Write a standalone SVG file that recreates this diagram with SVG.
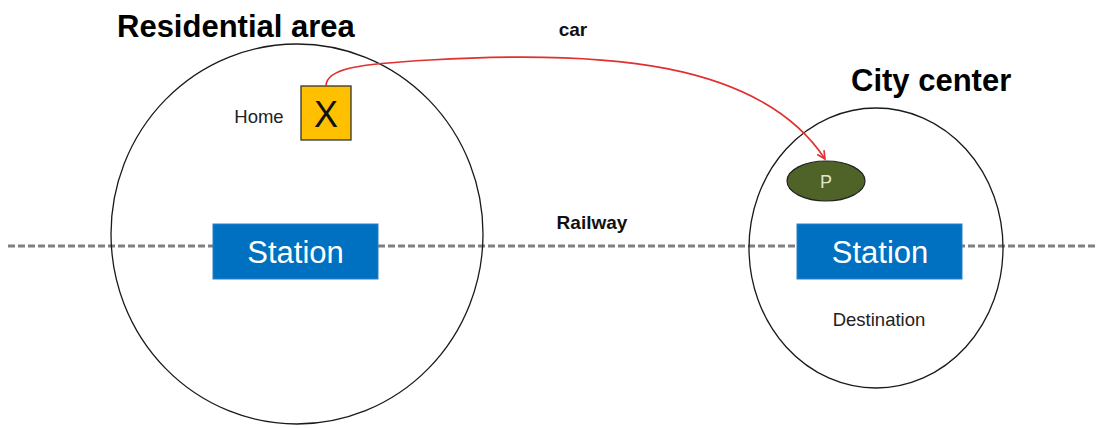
<svg xmlns="http://www.w3.org/2000/svg" width="1097" height="428" viewBox="0 0 1097 428">
  <style>
    .area { fill: none; stroke: #1a1a1a; stroke-width: 1.3; }
    .title { font-family: "Liberation Sans", Arial, sans-serif; font-weight: bold; font-size: 31px; fill: #000; }
    .label { font-family: "Liberation Sans", Arial, sans-serif; font-size: 18.5px; fill: #222; }
    .bold { font-family: "Liberation Sans", Arial, sans-serif; font-weight: bold; font-size: 19px; fill: #111; }
    .station rect { fill: #0070c0; stroke: #2a80c8; stroke-width: 1; }
    .station text { font-family: "Liberation Sans", Arial, sans-serif; font-size: 31px; fill: #fff; text-anchor: middle; }
  </style>
  <defs>
    <marker id="arrow" viewBox="0 0 10 10" refX="9" refY="5" markerWidth="10" markerHeight="10" orient="auto" markerUnits="userSpaceOnUse">
      <path d="M1,1 L9,5 L1,9" fill="none" stroke="#e03030" stroke-width="1.6"/>
    </marker>
  </defs>
  <rect width="1097" height="428" fill="#fff"/>

  <!-- railway line -->
  <g id="railway">
    <line x1="8" y1="246" x2="1097" y2="246" stroke="#808080" stroke-width="3" stroke-dasharray="7,3"/>
    <text class="bold" x="592" y="229" text-anchor="middle">Railway</text>
  </g>

  <!-- residential area -->
  <g id="residential">
    <ellipse class="area" cx="297" cy="234" rx="186" ry="190"/>
    <text class="title" x="117" y="37">Residential area</text>
  </g>

  <!-- city center -->
  <g id="city-center">
    <ellipse class="area" cx="876" cy="248" rx="127" ry="140"/>
    <text class="title" x="851" y="91">City center</text>
  </g>

  <g id="home">
    <text class="label" x="259" y="123" text-anchor="middle">Home</text>
    <rect x="301" y="86" width="50" height="54" fill="#ffc000" stroke="#333" stroke-width="1.3"/>
    <text x="326" y="127" font-family="Liberation Sans, Arial, sans-serif" font-size="36" text-anchor="middle" fill="#111">X</text>
  </g>

  <g id="station-left" class="station">
    <rect x="213" y="224" width="165" height="55"/>
    <text x="295.5" y="263">Station</text>
  </g>

  <g id="station-right" class="station">
    <rect x="797" y="224" width="165" height="55"/>
    <text x="880" y="263">Station</text>
  </g>

  <g id="parking">
    <ellipse cx="826" cy="181" rx="39" ry="20" fill="#4f6228" stroke="#222" stroke-width="1.2"/>
    <text x="826" y="188" font-family="Liberation Sans, Arial, sans-serif" font-size="18" text-anchor="middle" fill="#dfe6cf">P</text>
  </g>

  <g id="destination">
    <text class="label" x="879" y="326" text-anchor="middle">Destination</text>
  </g>

  <!-- car route -->
  <g id="connectors">
    <path d="M326,86 C326,68 360,64 430,60 C600,50 760,60 825,159" fill="none" stroke="#e03030" stroke-width="1.6" marker-end="url(#arrow)"/>
    <text class="bold" x="573" y="36" text-anchor="middle">car</text>
  </g>
</svg>
